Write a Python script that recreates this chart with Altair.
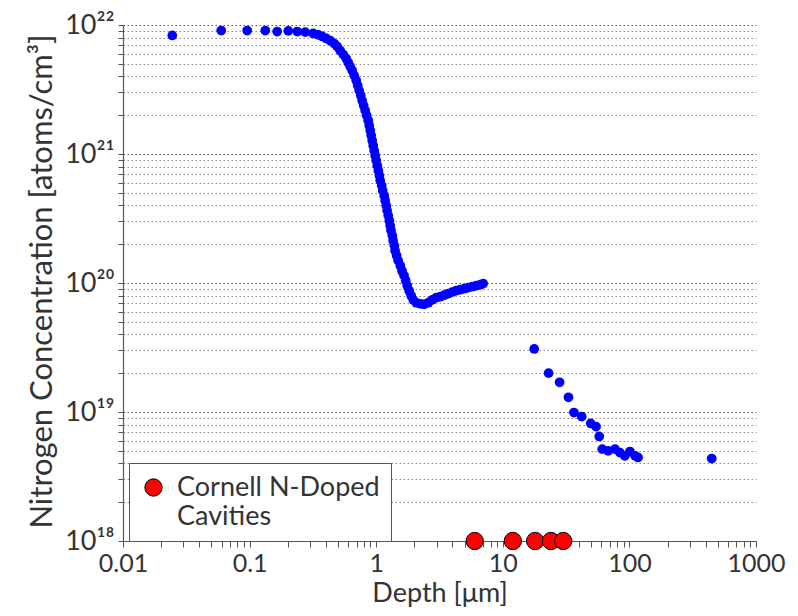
import altair as alt
import pandas as pd

# ---- data ----
sims_depth_um = [0.0245, 0.0597, 0.0957, 0.133, 0.165, 0.202, 0.238, 0.275, 0.318, 0.348,
                 0.375, 0.403, 0.433, 0.466, 0.492, 0.519, 0.549, 0.579, 0.601, 0.623,
                 0.646, 0.670, 0.695, 0.714, 0.734, 0.755, 0.775, 0.797, 0.819, 0.841,
                 0.865, 0.881, 0.897, 0.913, 0.930, 0.947, 0.964, 0.982, 1.00, 1.02,
                 1.04, 1.06, 1.075, 1.105, 1.125, 1.157, 1.178, 1.20, 1.22, 1.245,
                 1.27, 1.29, 1.31, 1.34, 1.36, 1.39, 1.41, 1.45, 1.49, 1.55,
                 1.60, 1.66, 1.71, 1.76, 1.82, 1.89, 1.96, 2.07, 2.23, 2.39,
                 2.58, 2.77, 2.98, 3.20, 3.44, 3.70, 3.98, 4.28, 4.61, 4.96,
                 5.33, 5.73, 6.17, 6.63, 7.0,
                 17.7, 23.0, 28.1, 33.0, 36.5, 42.0, 49.5, 54.5, 57.8, 61.0,
                 68.0, 77.0, 84.0, 92.0, 101.0, 111.0, 117.0, 447.0]
sims_conc = [8.3e21, 9.06e21, 9.06e21, 9.06e21, 8.9e21, 9.0e21, 8.9e21, 8.8e21, 8.6e21, 8.4e21,
             8.15e21, 7.86e21, 7.58e21, 7.18e21, 6.81e21, 6.34e21, 5.9e21, 5.5e21, 5.12e21, 4.76e21,
             4.44e21, 4.06e21, 3.71e21, 3.40e21, 3.10e21, 2.84e21, 2.59e21, 2.37e21, 2.17e21, 1.99e21,
             1.82e21, 1.66e21, 1.52e21, 1.39e21, 1.27e21, 1.16e21, 1.06e21, 9.7e20, 8.9e20, 8.13e20,
             7.43e20, 6.8e20, 6.22e20, 5.69e20, 5.2e20, 4.75e20, 4.35e20, 3.98e20, 3.64e20, 3.33e20,
             3.04e20, 2.78e20, 2.55e20, 2.33e20, 2.13e20, 1.95e20, 1.78e20, 1.63e20, 1.49e20, 1.36e20,
             1.24e20, 1.14e20, 1.04e20, 9.5e19, 8.7e19, 7.97e19, 7.4e19, 7.03e19, 6.9e19, 6.84e19,
             7.03e19, 7.4e19, 7.69e19, 7.83e19, 8.04e19, 8.26e19, 8.49e19, 8.71e19, 8.87e19, 9.03e19,
             9.2e19, 9.36e19, 9.53e19, 9.7e19, 9.89e19,
             3.08e19, 2.0e19, 1.70e19, 1.30e19, 9.9e18, 9.2e18, 8.15e18, 7.7e18, 6.46e18, 5.15e18,
             5.0e18, 5.15e18, 4.85e18, 4.57e18, 4.94e18, 4.57e18, 4.44e18, 4.36e18]

cavity_depth_um = [6.0, 12.0, 18.0, 24.0, 30.0]
cavity_conc = [1e18, 1e18, 1e18, 1e18, 1e18]
cavity_label = "Cornell N-Doped Cavities"
legend_lines = ["Cornell N-Doped", "Cavities"]

x_decades = [0.01, 0.1, 1, 10, 100, 1000]
x_tick_labels = ["0.01", "0.1", "1", "10", "100", "1000"]
y_decades = [1e18, 1e19, 1e20, 1e21, 1e22]
y_tick_labels = ["10\u00b9\u2078", "10\u00b9\u2079", "10\u00b2\u2070", "10\u00b2\u00b9", "10\u00b2\u00b2"]

x_title = "Depth [\u03bcm]"
y_title = "Nitrogen Concentration [atoms/cm\u00b3]"

# ---- helpers ----
def minor_values(decades):
    vals = []
    for d in decades[:-1]:
        vals += [k * d for k in range(1, 10)]
    vals.append(decades[-1])
    return vals

def label_expr(decades, labels):
    expr = "''"
    for d, l in reversed(list(zip(decades, labels))):
        expr = f"datum.value == {d!r} ? '{l}' : ({expr})"
    return expr

def decade_test(decades):
    return " || ".join(f"datum.value == {d!r}" for d in decades)

x_vals = minor_values(x_decades)
y_vals = minor_values(y_decades)

sims = pd.DataFrame({"depth": sims_depth_um, "conc": sims_conc})
cav = pd.DataFrame({"depth": cavity_depth_um, "conc": cavity_conc,
                    "series": [cavity_label] * len(cavity_depth_um)})

FONT = "Lato"
TXT = "#333333"

x_enc = alt.X("depth:Q", scale=alt.Scale(type="log", domain=[0.01, 1000], nice=False),
              axis=alt.Axis(values=x_vals, labelExpr=label_expr(x_decades, x_tick_labels),
                            title=x_title, grid=False, tickSize=6,
                            labelFlush=False, labelOverlap=False,
                            labelFontSize=25, titleFontSize=27,
                            labelPadding=4, titleY=60, titleBaseline="alphabetic"))
y_enc = alt.Y("conc:Q", scale=alt.Scale(type="log", domain=[1e18, 1e22], nice=False),
              axis=alt.Axis(values=y_vals, labelExpr=label_expr(y_decades, y_tick_labels),
                            title=y_title, grid=True, labelOverlap=False, labelFlush=False,
                            labelFontSize=27, titleFontSize=31, tickSize=5,
                            labelPadding=4, titlePadding=6, titleY=256,
                            gridColor={"condition": {"test": decade_test(y_decades),
                                                     "value": "#555555"},
                                       "value": "#8a8a8a"}))

blue = alt.Chart(sims).mark_circle(size=95, color="#0000ff", opacity=1).encode(
    x=x_enc, y=y_enc)

red = alt.Chart(cav).mark_point(shape="circle", size=300, filled=True, fill="#ff0000",
                                stroke="#000000", strokeWidth=1, opacity=1).encode(
    x="depth:Q", y="conc:Q",
    color=alt.Color("series:N",
                    scale=alt.Scale(domain=[cavity_label], range=["#ff0000"]),
                    legend=alt.Legend(
                        title=None, orient="none", legendX=6, legendY=438,
                        labelExpr=f"{legend_lines!r}",
                        labelFont=FONT, labelFontSize=27, labelColor=TXT, labelLimit=400,
                        labelOffset=10, symbolSize=300, symbolType="circle",
                        symbolFillColor="#ff0000", symbolStrokeColor="#000000",
                        symbolStrokeWidth=1, symbolOpacity=1,
                        strokeColor="#555555", fillColor="#ffffff", padding=11,
                        cornerRadius=0,
                    )))

chart = alt.layer(blue, red).properties(
    width=633, height=516,
    autosize=alt.AutoSizeParams(type="none"),
    padding={"left": 115, "top": 17, "right": 34, "bottom": 67},
).configure_view(stroke=None).configure_axis(
    labelFont=FONT, titleFont=FONT, labelColor=TXT, titleColor=TXT,
    titleFontWeight="normal",
    domainColor="#555555", tickColor="#555555", domainWidth=1.2,
    gridColor="#8a8a8a", gridDash=[1.5, 2.5], gridWidth=1,
)

chart.save("out.html", embed_options={"renderer": "svg", "actions": False})
